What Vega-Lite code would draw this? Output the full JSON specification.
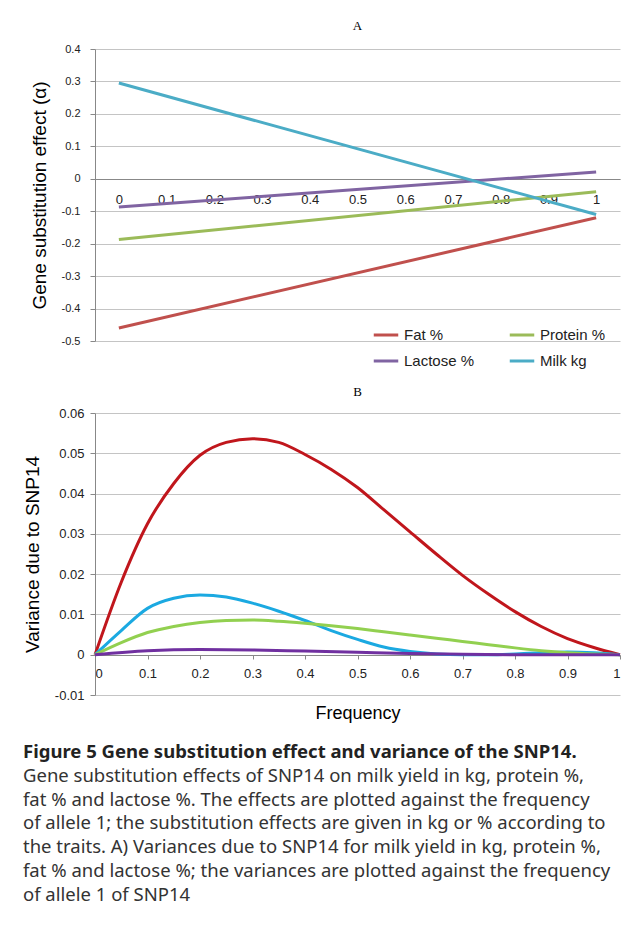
{
  "$schema": "https://vega.github.io/schema/vega-lite/v6.json",
  "padding": {"left": 23, "top": 20, "right": 0, "bottom": 0},
  "background": "white",
  "bounds": "flush",
  "spacing": 72,
  "config": {
    "view": {"stroke": null},
    "font": "Liberation Sans",
    "axis": {"labelFont": "Liberation Sans", "labelFontSize": 11, "labelColor": "#222", "titleFont": "Liberation Sans", "titleFontWeight": "normal", "titleColor": "#000", "domainColor": "#888", "tickColor": "#888", "gridColor": "#c4c4c4"},
    "title": {"font": "Times New Roman", "fontSize": 13, "fontWeight": "normal", "offset": 10}
  },
  "datasets": {
    "effects": [
      {"freq": 0, "trait": "Fat %", "value": -0.46},
      {"freq": 1, "trait": "Fat %", "value": -0.12},
      {"freq": 0, "trait": "Protein %", "value": -0.187},
      {"freq": 1, "trait": "Protein %", "value": -0.04},
      {"freq": 0, "trait": "Lactose %", "value": -0.087},
      {"freq": 1, "trait": "Lactose %", "value": 0.021},
      {"freq": 0, "trait": "Milk kg", "value": 0.295},
      {"freq": 1, "trait": "Milk kg", "value": -0.11}
    ],
    "variance": [
      {"freq": 0, "trait": "Fat %", "value": 0},
      {"freq": 0.05, "trait": "Fat %", "value": 0.018},
      {"freq": 0.1, "trait": "Fat %", "value": 0.0325},
      {"freq": 0.15, "trait": "Fat %", "value": 0.0425},
      {"freq": 0.2, "trait": "Fat %", "value": 0.0495},
      {"freq": 0.25, "trait": "Fat %", "value": 0.0527},
      {"freq": 0.3, "trait": "Fat %", "value": 0.0536},
      {"freq": 0.35, "trait": "Fat %", "value": 0.0527},
      {"freq": 0.4, "trait": "Fat %", "value": 0.0497},
      {"freq": 0.45, "trait": "Fat %", "value": 0.046},
      {"freq": 0.5, "trait": "Fat %", "value": 0.0415},
      {"freq": 0.55, "trait": "Fat %", "value": 0.036},
      {"freq": 0.6, "trait": "Fat %", "value": 0.0305},
      {"freq": 0.65, "trait": "Fat %", "value": 0.025},
      {"freq": 0.7, "trait": "Fat %", "value": 0.0197},
      {"freq": 0.75, "trait": "Fat %", "value": 0.015},
      {"freq": 0.8, "trait": "Fat %", "value": 0.0107},
      {"freq": 0.85, "trait": "Fat %", "value": 0.007},
      {"freq": 0.9, "trait": "Fat %", "value": 0.004},
      {"freq": 0.95, "trait": "Fat %", "value": 0.0018},
      {"freq": 1, "trait": "Fat %", "value": 0},
      {"freq": 0, "trait": "Milk kg", "value": 0},
      {"freq": 0.05, "trait": "Milk kg", "value": 0.006},
      {"freq": 0.1, "trait": "Milk kg", "value": 0.0115},
      {"freq": 0.15, "trait": "Milk kg", "value": 0.014},
      {"freq": 0.2, "trait": "Milk kg", "value": 0.0148},
      {"freq": 0.25, "trait": "Milk kg", "value": 0.0143},
      {"freq": 0.3, "trait": "Milk kg", "value": 0.0128},
      {"freq": 0.35, "trait": "Milk kg", "value": 0.0108},
      {"freq": 0.4, "trait": "Milk kg", "value": 0.0085},
      {"freq": 0.45, "trait": "Milk kg", "value": 0.006},
      {"freq": 0.5, "trait": "Milk kg", "value": 0.0038},
      {"freq": 0.55, "trait": "Milk kg", "value": 0.0019},
      {"freq": 0.6, "trait": "Milk kg", "value": 0.0008},
      {"freq": 0.65, "trait": "Milk kg", "value": 0.0002},
      {"freq": 0.7, "trait": "Milk kg", "value": 0},
      {"freq": 0.75, "trait": "Milk kg", "value": 0},
      {"freq": 0.8, "trait": "Milk kg", "value": 0.0002},
      {"freq": 0.85, "trait": "Milk kg", "value": 0.0005},
      {"freq": 0.9, "trait": "Milk kg", "value": 0.0007},
      {"freq": 0.95, "trait": "Milk kg", "value": 0.0005},
      {"freq": 1, "trait": "Milk kg", "value": 0},
      {"freq": 0, "trait": "Protein %", "value": 0},
      {"freq": 0.05, "trait": "Protein %", "value": 0.003},
      {"freq": 0.1, "trait": "Protein %", "value": 0.0055},
      {"freq": 0.15, "trait": "Protein %", "value": 0.007},
      {"freq": 0.2, "trait": "Protein %", "value": 0.008},
      {"freq": 0.25, "trait": "Protein %", "value": 0.0085},
      {"freq": 0.3, "trait": "Protein %", "value": 0.0086},
      {"freq": 0.35, "trait": "Protein %", "value": 0.0083},
      {"freq": 0.4, "trait": "Protein %", "value": 0.0078},
      {"freq": 0.45, "trait": "Protein %", "value": 0.0072},
      {"freq": 0.5, "trait": "Protein %", "value": 0.0065},
      {"freq": 0.55, "trait": "Protein %", "value": 0.0057},
      {"freq": 0.6, "trait": "Protein %", "value": 0.0049},
      {"freq": 0.65, "trait": "Protein %", "value": 0.0041},
      {"freq": 0.7, "trait": "Protein %", "value": 0.0033},
      {"freq": 0.75, "trait": "Protein %", "value": 0.0025},
      {"freq": 0.8, "trait": "Protein %", "value": 0.0017},
      {"freq": 0.85, "trait": "Protein %", "value": 0.001},
      {"freq": 0.9, "trait": "Protein %", "value": 0.0005},
      {"freq": 0.95, "trait": "Protein %", "value": 0.0002},
      {"freq": 1, "trait": "Protein %", "value": 0},
      {"freq": 0, "trait": "Lactose %", "value": 0},
      {"freq": 0.1, "trait": "Lactose %", "value": 0.001},
      {"freq": 0.2, "trait": "Lactose %", "value": 0.0013},
      {"freq": 0.3, "trait": "Lactose %", "value": 0.0012},
      {"freq": 0.4, "trait": "Lactose %", "value": 0.0009},
      {"freq": 0.5, "trait": "Lactose %", "value": 0.0006},
      {"freq": 0.6, "trait": "Lactose %", "value": 0.0003},
      {"freq": 0.7, "trait": "Lactose %", "value": 0.0001},
      {"freq": 0.8, "trait": "Lactose %", "value": 0},
      {"freq": 0.9, "trait": "Lactose %", "value": 0},
      {"freq": 1, "trait": "Lactose %", "value": 0}
    ],
    "caption": [
      {"line": 0, "text": "Figure 5 Gene substitution effect and variance of the SNP14.", "weight": "bold"},
      {"line": 1, "text": "Gene substitution effects of SNP14 on milk yield in kg, protein %,", "weight": "normal"},
      {"line": 2, "text": "fat % and lactose %. The effects are plotted against the frequency", "weight": "normal"},
      {"line": 3, "text": "of allele 1; the substitution effects are given in kg or % according to", "weight": "normal"},
      {"line": 4, "text": "the traits. A) Variances due to SNP14 for milk yield in kg, protein %,", "weight": "normal"},
      {"line": 5, "text": "fat % and lactose %; the variances are plotted against the frequency", "weight": "normal"},
      {"line": 6, "text": "of allele 1 of SNP14", "weight": "normal"}
    ]
  },
  "resolve": {"scale": {"color": "independent", "x": "independent", "y": "independent"}},
  "vconcat": [
    {
      "title": "A",
      "width": 525,
      "height": 292,
      "data": {"name": "effects"},
      "mark": {"type": "line", "strokeWidth": 3},
      "encoding": {
        "x": {"field": "freq", "type": "quantitative", "scale": {"domain": [-0.05, 1.05], "nice": false},
          "axis": {"values": [0, 0.1, 0.2, 0.3, 0.4, 0.5, 0.6, 0.7, 0.8, 0.9, 1], "format": "~g", "offset": -162, "grid": false, "ticks": false, "domain": true, "labelFontSize": 13, "labelPadding": 14, "title": null}},
        "y": {"field": "value", "type": "quantitative", "scale": {"domain": [-0.5, 0.4], "nice": false},
          "axis": {"values": [-0.5, -0.4, -0.3, -0.2, -0.1, 0, 0.1, 0.2, 0.3, 0.4], "format": "~g", "labelExpr": "replace(datum.label, '\u2212', '-')", "title": "Gene substitution effect (α)", "titleFontSize": 19, "titlePadding": 12, "tickSize": 5, "labelPadding": 10}},
        "color": {"field": "trait", "type": "nominal",
          "scale": {"domain": ["Fat %", "Protein %", "Lactose %", "Milk kg"], "range": ["#c0504d", "#9bbb59", "#8064a2", "#4bacc6"]},
          "legend": {"orient": "none", "legendX": 277, "legendY": 272, "direction": "horizontal", "columns": 2, "columnPadding": 28, "rowPadding": 4, "symbolType": "stroke", "symbolStrokeWidth": 3, "symbolSize": 600, "labelFontSize": 15, "labelFont": "Liberation Sans", "labelColor": "#222", "labelLimit": 200, "title": null}}
      }
    },
    {
      "title": {"text": "B", "offset": 8},
      "width": 525,
      "height": 282,
      "data": {"name": "variance"},
      "mark": {"type": "line", "strokeWidth": 3, "interpolate": "monotone"},
      "encoding": {
        "x": {"field": "freq", "type": "quantitative", "scale": {"domain": [0, 1], "nice": false},
          "axis": {"values": [0, 0.1, 0.2, 0.3, 0.4, 0.5, 0.6, 0.7, 0.8, 0.9, 1], "format": "~g", "offset": -40, "grid": false, "tickSize": 4, "labelFontSize": 13, "labelPadding": 8, "title": "Frequency", "titleFontSize": 18, "titlePadding": 24}},
        "y": {"field": "value", "type": "quantitative", "scale": {"domain": [-0.01, 0.06], "nice": false},
          "axis": {"values": [-0.01, 0, 0.01, 0.02, 0.03, 0.04, 0.05, 0.06], "format": "~g", "labelExpr": "replace(datum.label, '\u2212', '-')", "title": "Variance due to SNP14", "titleFontSize": 19, "titlePadding": 12, "tickSize": 5, "labelFontSize": 13, "labelPadding": 6}},
        "color": {"field": "trait", "type": "nominal",
          "scale": {"domain": ["Fat %", "Protein %", "Lactose %", "Milk kg"], "range": ["#c0161c", "#92d050", "#7030a0", "#1ba9e1"]},
          "legend": null}
      }
    },
    {
      "width": 600,
      "height": 150,
      "data": {"name": "caption"},
      "encoding": {
        "x": {"datum": 0, "type": "quantitative", "scale": {"domain": [0, 1]}, "axis": null},
        "y": {"field": "line", "type": "quantitative", "scale": {"domain": [-0.5, 5.8], "reverse": true, "nice": false, "zero": false}, "axis": null},
        "text": {"field": "text"}
      },
      "layer": [
        {
          "transform": [{"filter": "datum.weight == 'bold'"}],
          "mark": {"type": "text", "align": "left", "baseline": "middle", "fontSize": 18.5, "font": "Noto Sans", "fontWeight": "bold", "dx": -72, "dy": -27, "color": "#222"}
        },
        {
          "transform": [{"filter": "datum.weight == 'normal'"}],
          "mark": {"type": "text", "align": "left", "baseline": "middle", "fontSize": 18.5, "font": "Noto Sans", "dx": -72, "dy": -27, "color": "#333"}
        }
      ]
    }
  ]
}
